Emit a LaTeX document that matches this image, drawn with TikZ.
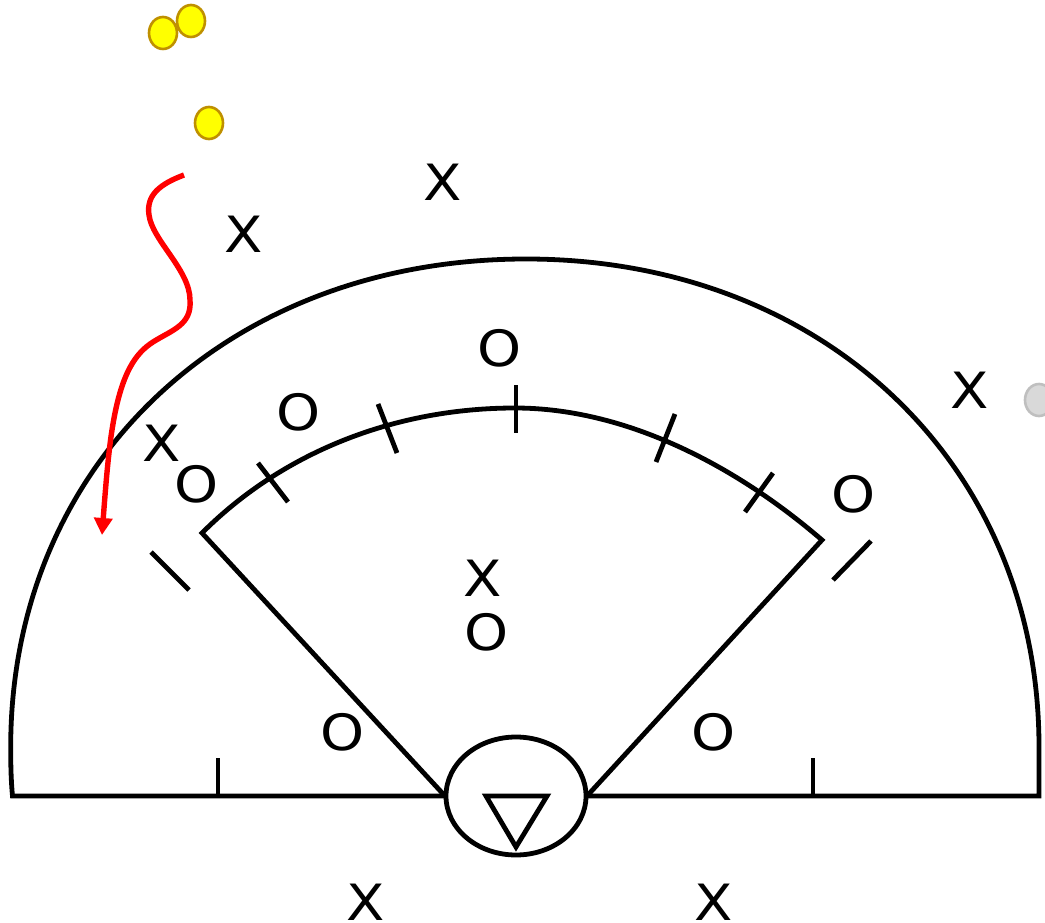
\documentclass[tikz,border=0pt]{standalone}
\usepackage{fontspec}
\setmainfont[FakeStretch=1.12]{DejaVu Sans}
\usetikzlibrary{arrows.meta,calc}
\definecolor{ballfill}{RGB}{255,255,0}
\definecolor{ballline}{RGB}{191,144,0}
\definecolor{sparefill}{RGB}{217,217,217}
\definecolor{spareline}{RGB}{191,191,191}
\tikzset{
  field/.style={line width=4.8pt,line join=miter},
  player/.style={inner sep=0pt,font=\fontsize{50}{50}\selectfont},
  ball/.style={draw=ballline,fill=ballfill,line width=2.6pt},
  spare/.style={draw=spareline,fill=sparefill,line width=2.6pt},
  hit/.style={red,line width=5.4pt,-{Triangle[length=17pt,width=18pt]}}
}
\begin{document}
\begin{tikzpicture}[x=1pt,y=-1pt]
  \useasboundingbox (0,0) rectangle (1045,923);

  % outer fence and foul line
  \coordinate (FL) at (12.5,796);
  \coordinate (FR) at (1039,796);
  \coordinate (HL) at (445,796);
  \coordinate (HR) at (587,796);
  \coordinate (Top) at (526,259);
  \draw[field] (HL) -- (FL) .. controls (11,780) and (10.7,765) .. (10.7,747)
    .. controls (10.7,464) and (227,259) .. (Top)
    .. controls (823,259) and (1039,464) .. (1039,747) -- (FR) -- (HR);

  % infield
  \coordinate (IL) at (202,533);
  \coordinate (IR) at (822,540);
  \coordinate (IT) at (515,408);
  \draw[field] (HL) -- (IL) .. controls (285,450) and (398,408) .. (IT)
    .. controls (625,408) and (735,465) .. (IR) -- (HR);

  % home circle and plate
  \draw[field] (516,796) ellipse[x radius=70pt,y radius=59pt];
  \draw[field] (486,796) -- (547,796) -- (516,847) -- cycle;

  % ticks
  \draw[field] (258,463) -- (288,502);
  \draw[field] (378,404) -- (397,453);
  \draw[field] (516,385) -- (516,433);
  \draw[field] (675,414) -- (656,462);
  \draw[field] (773,473) -- (745,512);
  \draw[field] (151,552) -- (189,590);
  \draw[field] (871,541) -- (833,580);
  \draw[field] (218,758) -- (218,796);
  \draw[field] (813,758) -- (813,796);

  % balls
  \draw[ball] (163,33) ellipse[x radius=14pt,y radius=16pt];
  \draw[ball] (191,21) ellipse[x radius=14pt,y radius=16pt];
  \draw[ball] (209,123) ellipse[x radius=14pt,y radius=16pt];
  \draw[spare] (1039,400) ellipse[x radius=14pt,y radius=16pt];

  % ball path
  \draw[hit] (184,175) .. controls (160,184) and (146,195) .. (149,215)
    .. controls (152,240) and (190,270) .. (190,300)
    .. controls (192,325) and (172,330) .. (153,342)
    .. controls (136,353) and (121,372) .. (112,430)
    .. controls (108,455) and (105,495) .. (102,535);

  % players
  \node[player] (x1) at (442.5,182) {X};
  \node[player] (x2) at (243.5,234) {X};
  \node[player] (x3) at (969.5,390) {X};
  \node[player] (x4) at (161.5,443) {X};
  \node[player] (x5) at (482.5,578) {X};
  \node[player] (x6) at (365.5,902) {X};
  \node[player] (x7) at (713.5,902) {X};
  \node[player] (o1) at (499.5,348) {O};
  \node[player] (o2) at (298.5,412) {O};
  \node[player] (o3) at (196.5,484) {O};
  \node[player] (o4) at (853.5,494) {O};
  \node[player] (o5) at (486.5,632) {O};
  \node[player] (o6) at (342.5,732) {O};
  \node[player] (o7) at (713.5,732) {O};
\end{tikzpicture}
\end{document}
